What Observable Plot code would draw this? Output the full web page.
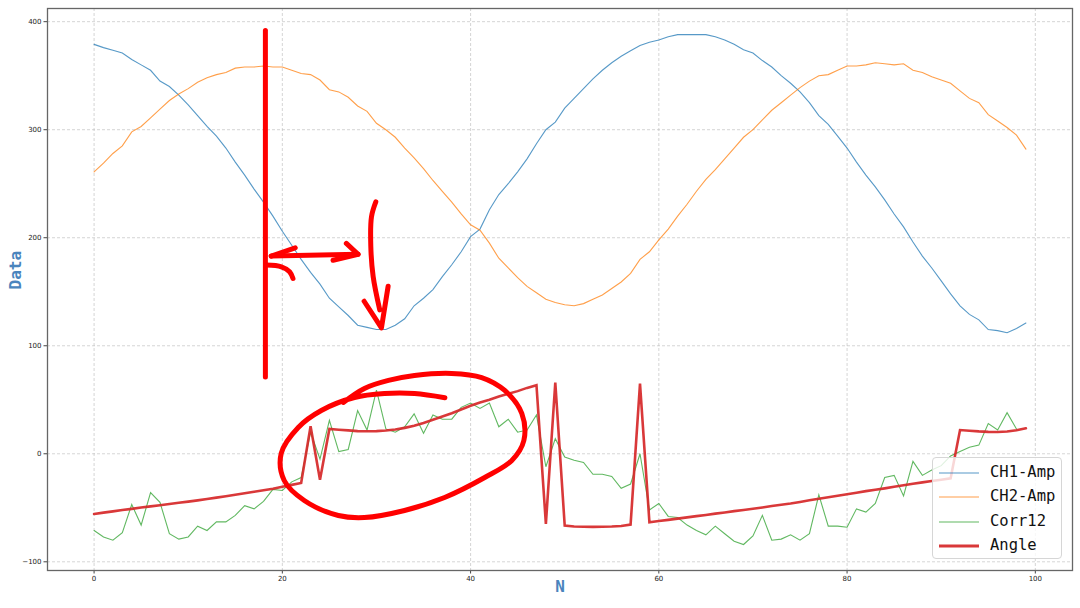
<!DOCTYPE html>
<html><head><meta charset="utf-8">
<script src="https://cdn.jsdelivr.net/npm/d3@7"></script>
<script src="https://cdn.jsdelivr.net/npm/@observablehq/plot@0.6"></script>
<style>
body{margin:0;background:#fff;}
#wrap{position:relative;width:1080px;height:608px;overflow:hidden;}
#legend{position:absolute;left:932px;top:457px;width:130px;height:102px;border:1px solid #d6d6d6;border-radius:4px;background:rgba(255,255,255,0.8);box-sizing:border-box;}
.row{position:absolute;left:0;height:24px;}
.row svg{position:absolute;left:6px;top:10px;}
.row span{position:absolute;left:57px;top:1px;font-family:"DejaVu Sans Mono",monospace;font-size:15.5px;color:#111;white-space:nowrap;line-height:20px;}
</style></head><body><div id="wrap"></div>
<script>
// ---- data ----
const ch1 = [379,376,373.5,371,365,360,355,345,340,332,323,313,303,294,283,270,258,245,233,220,206,193,180,168,157,144,136,128,119,117,115,115,119,125,137,144,152,164,175,187,201,208,226,240,250,261,273,287,300,307,320,329,338,347,355,362,368,373,378,381,383,386,388,388,388,388,386,383,379,374,371,364,358,350,343,335,325,313,305,294,283,270,258,247,235,222,210,196,183,172,160,148,137,129,124,115,114,112,116,121];
const ch2 = [261,269,278,285,298,303,311,319,327,333,338,344,348,351,353,357,358,358,359,358,358,355,352,351,346,337,335,330,322,317,306,300,293,283,274,264,253,243,233,222,212,207,195,181,172,163,155,149,143,140,138,137,139,143,147,153,159,167,180,187,198,208,220,231,243,254,263,273,283,293,300,309,318,325,332,339,345,350,351,355,359,359,360,362,361,360,361,355,353,349,346,343,336,329,325,314,308,302,295,282];
const corr12 = [-71,-77,-80,-73,-47,-66,-36,-45,-74,-79,-77,-67,-71,-63,-63,-57,-48,-51,-44,-33,-34,-26,-22,20,-5,31,2,4,40,22,59,23,20,25,37,19,36,32,32,43,47,42,47,25,32,20,22,36,-12,14,-3,-6,-8,-19,-19,-21,-32,-28,0,-52,-46,-58,-59,-66,-71,-75,-67,-74,-81,-84,-76,-57,-80,-79,-75,-80,-74,-38,-67,-67,-68,-51,-54,-46,-22,-20,-39,-7,-20,-15,-11,-2,2,6,8,28,22,38,23];
const angle = [-55.7,-54.5,-53.3,-52.1,-51,-49.8,-48.7,-47.6,-46.5,-45.4,-44.3,-43.1,-41.9,-40.6,-39.3,-38,-36.6,-35.2,-33.8,-32.3,-30.5,-28.8,-27,25.5,-24,23,22.3,21.7,21,20.8,21,21.5,22.5,24,26,28.5,31.5,34.5,37.5,41,44.5,47.5,50,53,55.5,58,61,63.5,-65,66,-66.5,-67.3,-67.6,-67.7,-67.6,-67.3,-66.8,-65.5,65,-63.5,-62.3,-61.2,-60,-58.9,-57.7,-56.6,-55.4,-54.3,-53.1,-52,-50.9,-49.7,-48.4,-47.2,-46,-44.6,-43.1,-41.6,-40.2,-38.8,-37.4,-36,-34.6,-33.3,-32,-30.6,-29.2,-27.8,-26.5,-25.2,-24,-22.8,22,21.3,20.7,20.3,20.2,20.6,21.8,23.6];
const seriesNames = ["CH1-Amp","CH2-Amp","Corr12","Angle"];
const seriesColors = ["#1f77b4","#ff7f0e","#2ca02c","#d62728"];
const xTicks = [0,20,40,60,80,100];
const yTicks = [-100,0,100,200,300,400];
const xLabel = "N";
const yLabel = "Data";
// hand-drawn red annotations (data units)
const noteVertical = [[18.2,391.9],[18.2,71]];
const noteArrowShaft = [[18.82,183],[28.05,184.6]];
const noteArrowLeftUpper = [[21.37,190.7],[18.82,183]];
const noteArrowLeftLower = [[18.29,174.7],[19.9,173.1],[20.77,168.5],[21.13,162.3]];
const noteArrowRightHead = [[26.8,194.7],[28.05,184.6],[25.39,179.1]];
const noteDownShaft = [[29.93,233.2],[29.47,219.4],[29.4,191.7],[29.65,164],[30.35,133.2]];
const noteDownHead = [[28.69,141.2],[30.53,116.6],[31.24,155.1]];
const noteEllipse = [[37.27,51.9],[34.05,55.8],[30.85,55.8],[27.66,52.1],[24.14,40.1],[21.69,24.4],[19.88,0.3],[20.2,-24.7],[22.33,-43.2],[25.95,-57.1],[28.72,-59],[32.98,-52.5],[37.24,-40.5],[41.5,-22],[44.38,-6.2],[45.66,12.3],[45.44,37.3],[43.63,58.6],[41.18,70.6],[37.98,74.4],[34.04,72.5],[31.27,67.9],[28.72,60.5],[26.48,47.5]];

// ---- chart ----
const rows = arr => arr.map((v,i)=>({i, v}));
const series = [ch1, ch2, corr12, angle];
const widths = [1.1, 1.1, 1.1, 2.6];
const opac = [0.75, 0.75, 0.75, 0.92];
const noteStyle = (curve) => ({x: d=>d[0], y: d=>d[1], stroke:"#ff0000", strokeWidth:5, strokeLinecap:"round", strokeLinejoin:"round", curve});
const gridStyle = {stroke:"#bdbdbd", strokeOpacity:0.8, strokeWidth:0.8, strokeDasharray:"3,2"};

const chart = Plot.plot({
  width:1080, height:608,
  marginLeft:47, marginRight:8, marginTop:8, marginBottom:38,
  x:{domain:[-4.95,103.95]},
  y:{domain:[-108.05,412.2]},
  style:{fontFamily:"DejaVu Sans, sans-serif", fontSize:"7px", background:"white", color:"#222"},
  marks:[
    Plot.gridX(xTicks, gridStyle),
    Plot.gridY(yTicks, gridStyle),
    Plot.axisX(xTicks, {tickSize:3.5, tickPadding:2.5, label:null, stroke:"#444"}),
    Plot.axisY(yTicks, {tickSize:3.5, tickPadding:2.5, label:null, stroke:"#444"}),
    ...series.map((s,k)=>Plot.line(rows(s), {x:"i", y:"v", stroke:seriesColors[k], strokeWidth:widths[k], strokeOpacity:opac[k], strokeLinejoin:"miter", strokeMiterlimit:4})),
    Plot.frame({stroke:"#666", strokeWidth:1.3}),
    Plot.line(noteVertical, noteStyle("linear")),
    Plot.line(noteArrowShaft, noteStyle("linear")),
    Plot.line(noteArrowLeftUpper, noteStyle("linear")),
    Plot.line(noteArrowLeftLower, noteStyle("catmull-rom")),
    Plot.line(noteArrowRightHead, noteStyle("linear")),
    Plot.line(noteDownShaft, noteStyle("catmull-rom")),
    Plot.line(noteDownHead, noteStyle("linear")),
    Plot.line(noteEllipse, noteStyle("catmull-rom")),
    Plot.text([yLabel], {frameAnchor:"left", dx:-32, rotate:-90, fill:"#4a84bd", fontSize:16, fontFamily:"DejaVu Sans Mono, monospace", fontWeight:"bold"}),
    Plot.text([xLabel], {frameAnchor:"bottom", dy:21, fill:"#4a84bd", fontSize:16, fontFamily:"DejaVu Sans Mono, monospace", fontWeight:"bold"})
  ]
});
const wrap = document.getElementById("wrap");
wrap.appendChild(chart);

// legend inside plot (bottom right)
const legend = d3.select(wrap).append("div").attr("id","legend");
seriesNames.forEach((name,k)=>{
  const row = legend.append("div").attr("class","row").style("top", (3 + k*24.3) + "px").style("width","128px");
  const sv = row.append("svg").attr("width",40).attr("height",4);
  sv.append("line").attr("x1",0).attr("x2",40).attr("y1",2).attr("y2",2)
    .attr("stroke",seriesColors[k]).attr("stroke-width", k===3?3:1.2).attr("stroke-opacity", opac[k]);
  row.append("span").text(name);
});
</script></body></html>
